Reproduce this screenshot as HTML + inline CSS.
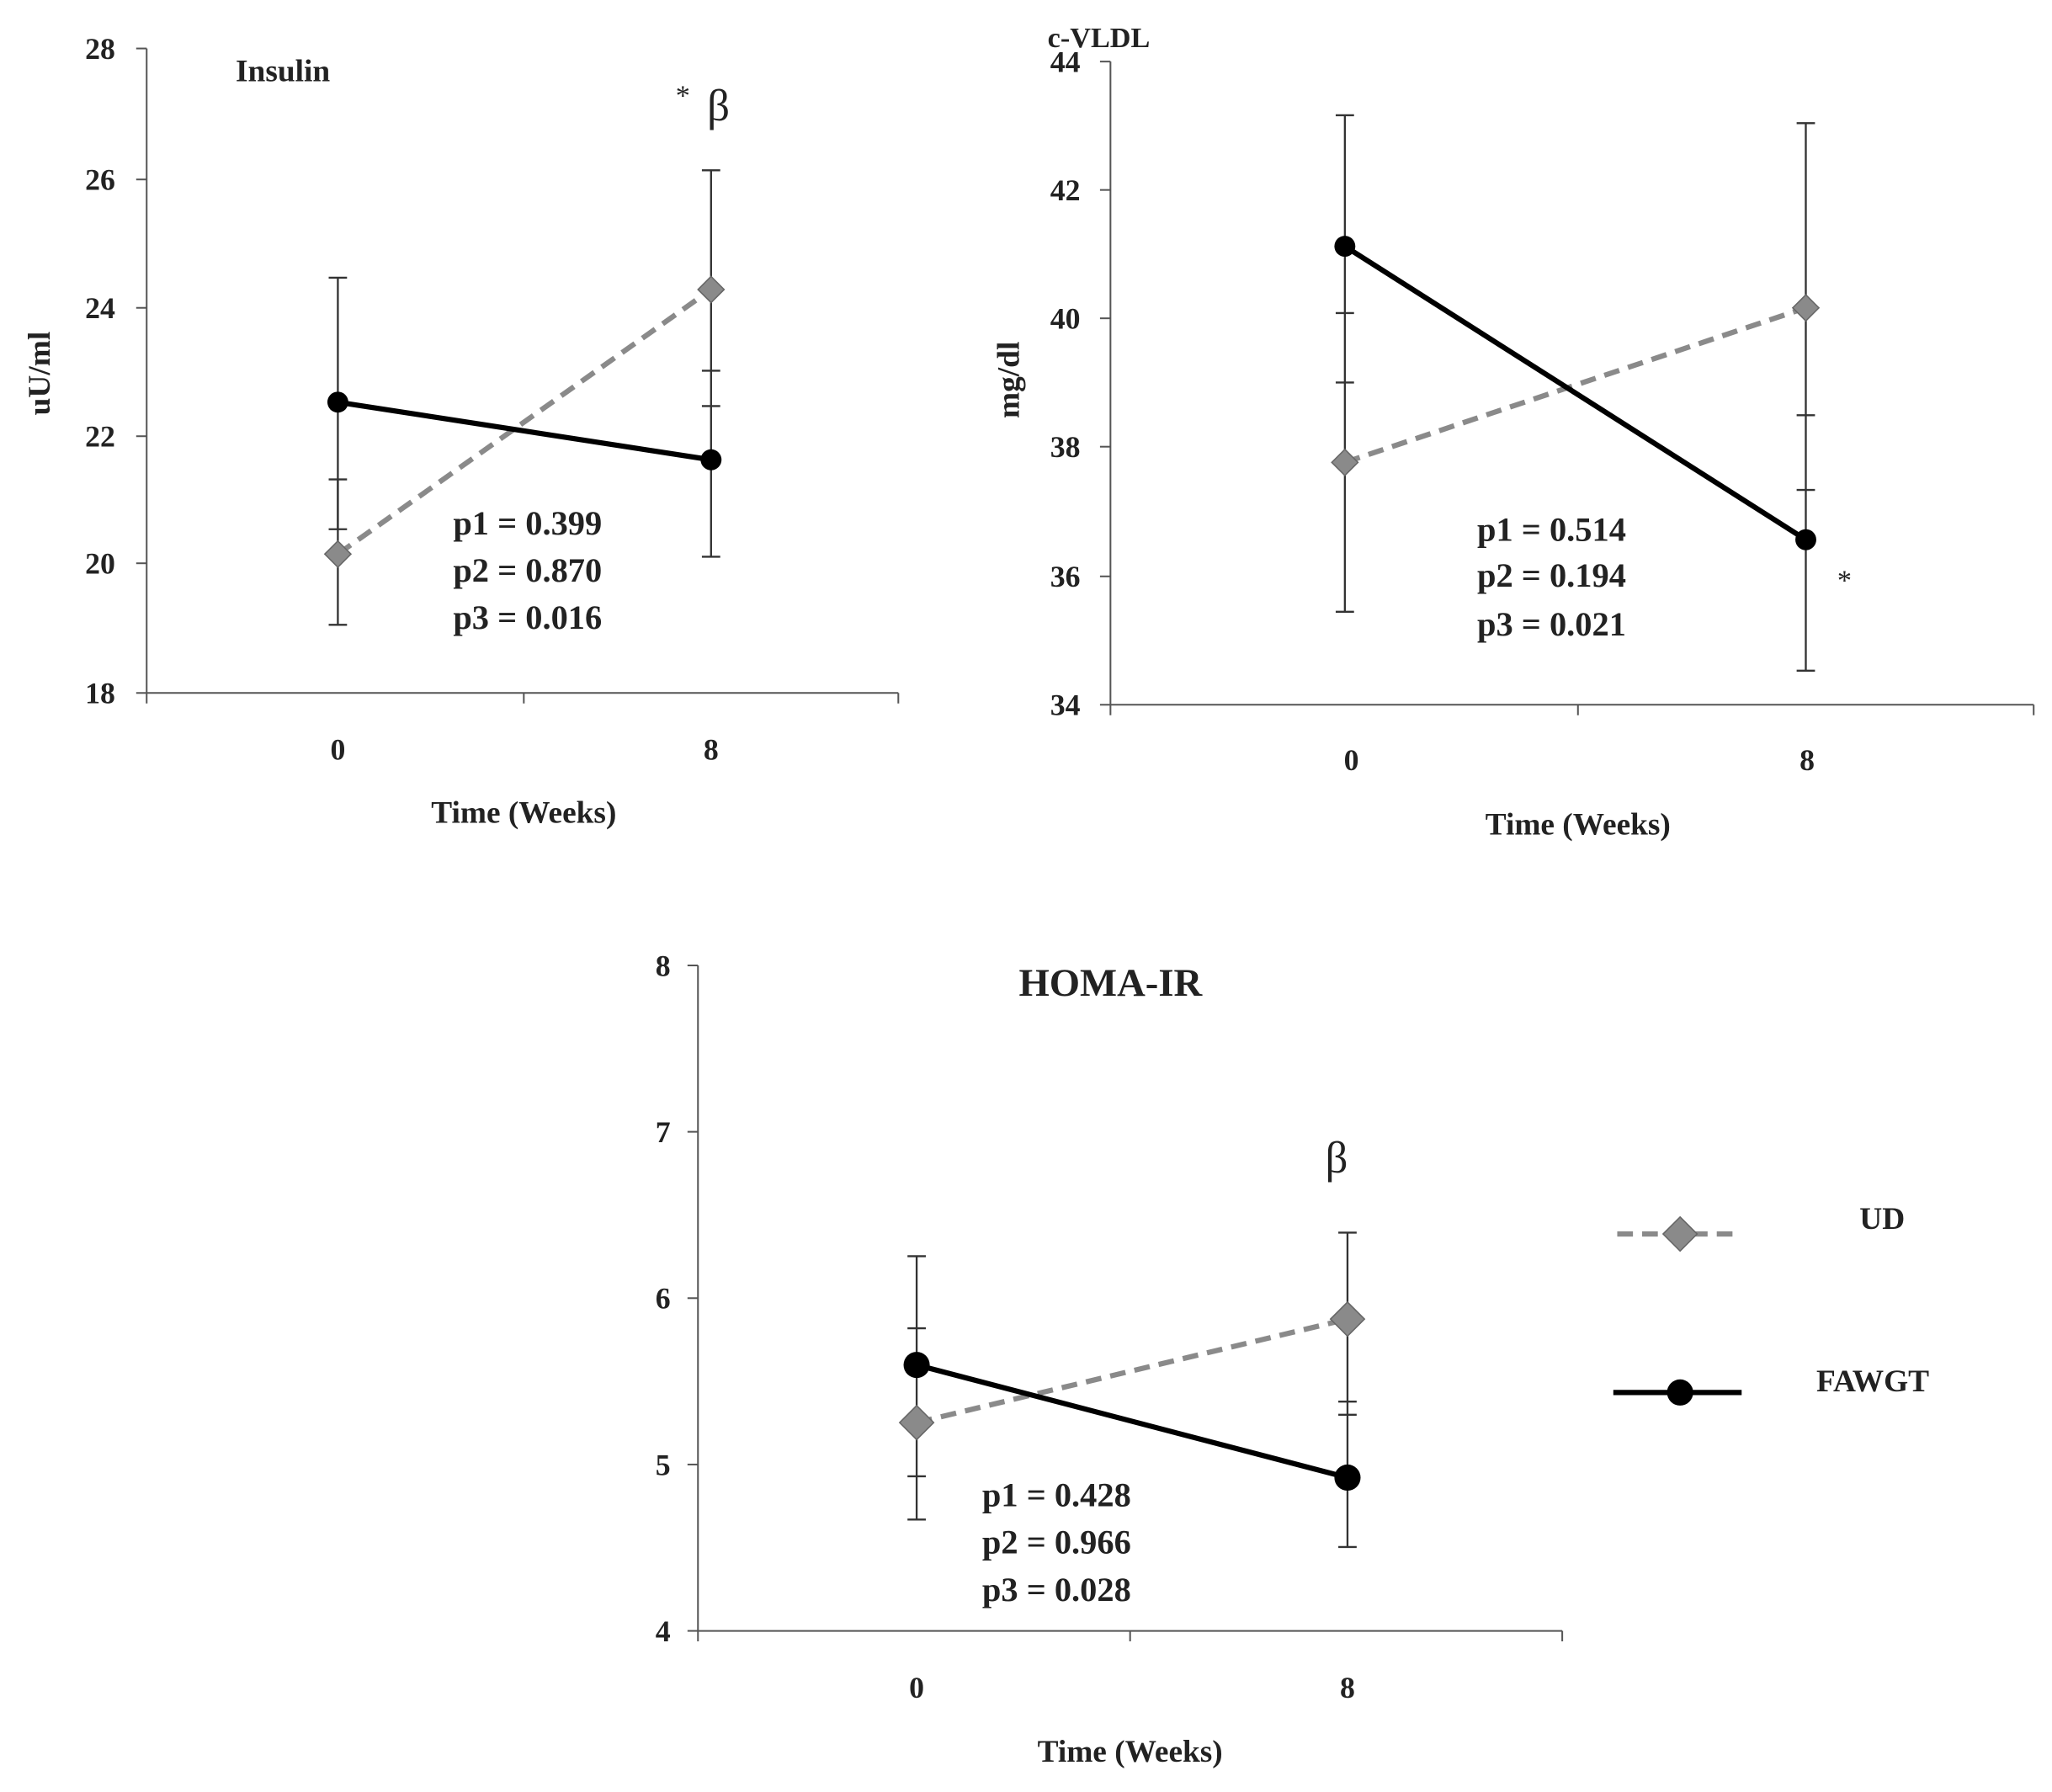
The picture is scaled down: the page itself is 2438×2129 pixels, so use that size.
<!DOCTYPE html>
<html><head><meta charset="utf-8"><style>
html,body{margin:0;padding:0;background:#fff;}
svg{display:block;}
text{font-family:"Liberation Serif",serif;fill:#222;}
</style></head><body>
<svg width="2438" height="2129" viewBox="0 0 1567 1368" preserveAspectRatio="none" xmlns="http://www.w3.org/2000/svg">
<defs>
<g id="dia"><polygon points="0,-10 10,0 0,10 -10,0" fill="#8a8a8a" stroke="#666" stroke-width="1"/></g>
<g id="dia2"><polygon points="0,-13 13,0 0,13 -13,0" fill="#8a8a8a" stroke="#666" stroke-width="1"/></g>
</defs>
<g stroke="#555" stroke-width="1.3" fill="none">
<line x1="112" y1="37" x2="112" y2="529"/>
<line x1="112" y1="529" x2="686" y2="529"/>
<line x1="104" y1="37" x2="112" y2="37"/><line x1="104" y1="137" x2="112" y2="137"/><line x1="104" y1="235" x2="112" y2="235"/><line x1="104" y1="333" x2="112" y2="333"/><line x1="104" y1="430" x2="112" y2="430"/><line x1="104" y1="529" x2="112" y2="529"/>
<line x1="112" y1="529" x2="112" y2="537"/><line x1="400" y1="529" x2="400" y2="537"/><line x1="686" y1="529" x2="686" y2="537"/>
<line x1="848" y1="47" x2="848" y2="538"/>
<line x1="848" y1="538" x2="1553" y2="538"/>
<line x1="840" y1="47" x2="848" y2="47"/><line x1="840" y1="145" x2="848" y2="145"/><line x1="840" y1="243" x2="848" y2="243"/><line x1="840" y1="341" x2="848" y2="341"/><line x1="840" y1="440" x2="848" y2="440"/><line x1="840" y1="538" x2="848" y2="538"/>
<line x1="848" y1="538" x2="848" y2="546"/><line x1="1205" y1="538" x2="1205" y2="546"/><line x1="1553" y1="538" x2="1553" y2="546"/>
<line x1="533" y1="737" x2="533" y2="1245"/>
<line x1="533" y1="1245" x2="1193" y2="1245"/>
<line x1="525" y1="737" x2="533" y2="737"/><line x1="525" y1="864" x2="533" y2="864"/><line x1="525" y1="991" x2="533" y2="991"/><line x1="525" y1="1118" x2="533" y2="1118"/><line x1="525" y1="1245" x2="533" y2="1245"/>
<line x1="533" y1="1245" x2="533" y2="1253"/><line x1="863" y1="1245" x2="863" y2="1253"/><line x1="1193" y1="1245" x2="1193" y2="1253"/>
</g>
<g stroke="#333" stroke-width="1.5">
<line x1="258" y1="212" x2="258" y2="404"/><line x1="251" y1="212" x2="265" y2="212"/><line x1="251" y1="404" x2="265" y2="404"/>
<line x1="258" y1="366" x2="258" y2="477"/><line x1="251" y1="366" x2="265" y2="366"/><line x1="251" y1="477" x2="265" y2="477"/>
<line x1="543" y1="130" x2="543" y2="425"/><line x1="536" y1="130" x2="550" y2="130"/><line x1="536" y1="283" x2="550" y2="283"/><line x1="536" y1="310" x2="550" y2="310"/><line x1="536" y1="425" x2="550" y2="425"/>
<line x1="1027" y1="88" x2="1027" y2="467"/><line x1="1020" y1="88" x2="1034" y2="88"/><line x1="1020" y1="239" x2="1034" y2="239"/><line x1="1020" y1="292" x2="1034" y2="292"/><line x1="1020" y1="467" x2="1034" y2="467"/>
<line x1="1379" y1="94" x2="1379" y2="512"/><line x1="1372" y1="94" x2="1386" y2="94"/><line x1="1372" y1="317" x2="1386" y2="317"/><line x1="1372" y1="374" x2="1386" y2="374"/><line x1="1372" y1="512" x2="1386" y2="512"/>
<line x1="700" y1="959" x2="700" y2="1160"/><line x1="693" y1="959" x2="707" y2="959"/><line x1="693" y1="1014" x2="707" y2="1014"/><line x1="693" y1="1127" x2="707" y2="1127"/><line x1="693" y1="1160" x2="707" y2="1160"/>
<line x1="1029" y1="941" x2="1029" y2="1181"/><line x1="1022" y1="941" x2="1036" y2="941"/><line x1="1022" y1="1070" x2="1036" y2="1070"/><line x1="1022" y1="1080" x2="1036" y2="1080"/><line x1="1022" y1="1181" x2="1036" y2="1181"/>
</g>
<g stroke="#8a8a8a" stroke-width="4" stroke-dasharray="12,7" fill="none">
<line x1="258" y1="423" x2="543" y2="221"/>
<line x1="1027" y1="353" x2="1379" y2="235"/>
<line x1="700" y1="1086" x2="1029" y2="1007"/>
<line x1="1235" y1="942" x2="1330" y2="942"/>
</g>
<g stroke="#000" stroke-width="4">
<line x1="258" y1="307" x2="543" y2="351"/>
<line x1="1027" y1="188" x2="1379" y2="412"/>
<line x1="700" y1="1042" x2="1029" y2="1128"/>
<line x1="1232" y1="1063" x2="1330" y2="1063"/>
</g>
<use href="#dia" x="258" y="423"/><use href="#dia" x="543" y="221"/>
<use href="#dia" x="1027" y="353"/><use href="#dia" x="1379" y="235"/>
<use href="#dia2" x="700" y="1086"/><use href="#dia2" x="1029" y="1007"/><use href="#dia2" x="1283" y="942"/>
<g fill="#000">
<circle cx="258" cy="307" r="8"/><circle cx="543" cy="351" r="8"/>
<circle cx="1027" cy="188" r="8"/><circle cx="1379" cy="412" r="8"/>
<circle cx="700" cy="1042" r="10"/><circle cx="1029" cy="1128" r="10"/><circle cx="1283" cy="1063" r="10"/>
</g>
<g font-size="23" font-weight="bold" text-anchor="end">
<text x="88" y="45">28</text><text x="88" y="145">26</text><text x="88" y="243">24</text><text x="88" y="341">22</text><text x="88" y="438">20</text><text x="88" y="537">18</text>
<text x="825" y="55">44</text><text x="825" y="153">42</text><text x="825" y="251">40</text><text x="825" y="349">38</text><text x="825" y="448">36</text><text x="825" y="546">34</text>
<text x="512" y="745">8</text><text x="512" y="872">7</text><text x="512" y="999">6</text><text x="512" y="1126">5</text><text x="512" y="1253">4</text>
</g>
<g font-size="23" font-weight="bold" text-anchor="middle">
<text x="258" y="580">0</text><text x="543" y="580">8</text>
<text x="1032" y="588">0</text><text x="1380" y="588">8</text>
<text x="700" y="1296">0</text><text x="1029" y="1296">8</text>
</g>
<g font-size="24" font-weight="bold" text-anchor="middle">
<text x="400" y="628">Time (Weeks)</text>
<text x="1205" y="637">Time (Weeks)</text>
<text x="863" y="1345">Time (Weeks)</text>
<text transform="translate(38,285) rotate(-90)">uU/ml</text>
<text transform="translate(778,290) rotate(-90)">mg/dl</text>
</g>
<text x="180" y="62" font-size="24" font-weight="bold">Insulin</text>
<text x="800" y="36" font-size="22" font-weight="bold">c-VLDL</text>
<text x="848" y="760" font-size="30" font-weight="bold" text-anchor="middle">HOMA-IR</text>
<g font-size="26" font-weight="bold">
<text x="346" y="408">p1 = 0.399</text><text x="346" y="444">p2 = 0.870</text><text x="346" y="480">p3 = 0.016</text>
<text x="1128" y="413">p1 = 0.514</text><text x="1128" y="448">p2 = 0.194</text><text x="1128" y="485">p3 = 0.021</text>
<text x="750" y="1150">p1 = 0.428</text><text x="750" y="1186">p2 = 0.966</text><text x="750" y="1222">p3 = 0.028</text>
</g>
<text x="516" y="80" font-size="22">*</text>
<text x="540" y="92" font-size="34" font-family="Liberation Sans,sans-serif">β</text>
<text x="1403" y="450" font-size="22">*</text>
<text x="1012" y="895" font-size="34" font-family="Liberation Sans,sans-serif">β</text>
<g font-size="24" font-weight="bold">
<text x="1420" y="938">UD</text>
<text x="1387" y="1062">FAWGT</text>
</g>
</svg>
</body></html>
